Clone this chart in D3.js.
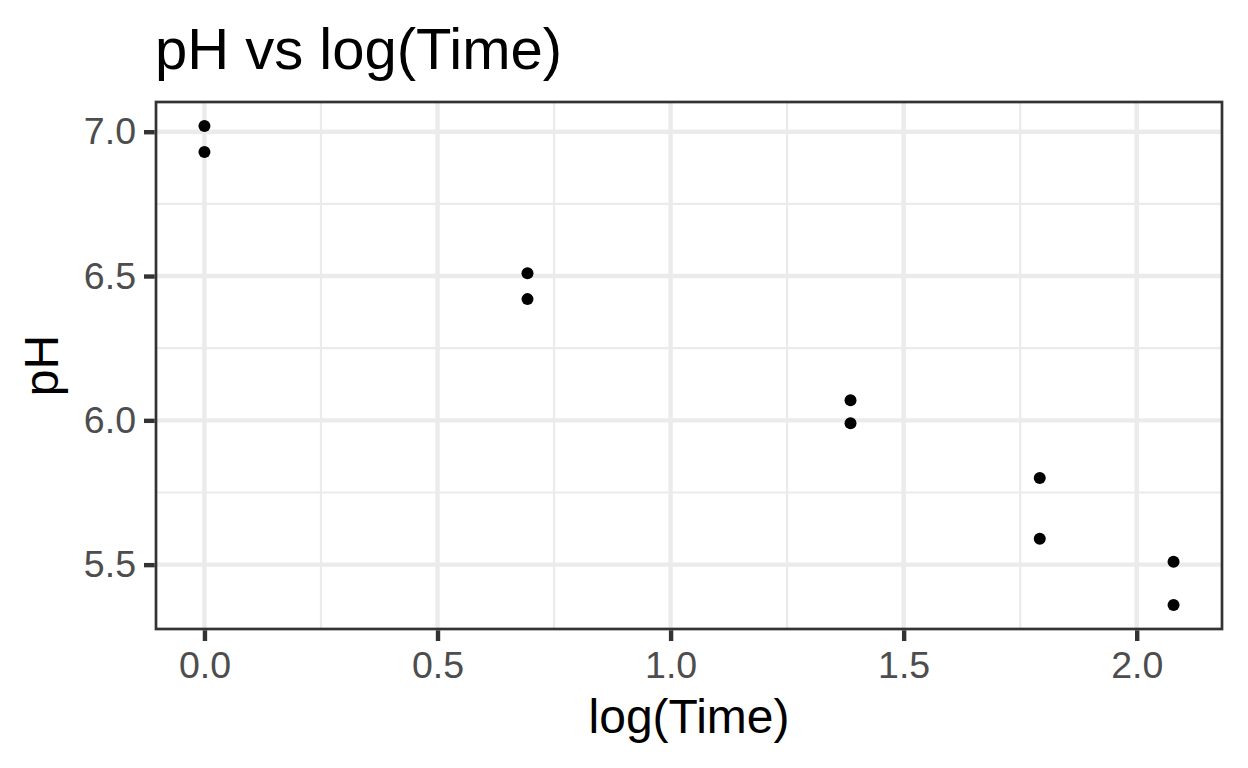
<!DOCTYPE html>
<html>
<head>
<meta charset="utf-8">
<script src="https://cdn.jsdelivr.net/npm/d3@7"></script>
<style>
  html, body { margin: 0; padding: 0; background: #fff; }
  svg { display: block; font-family: "Liberation Sans", Arial, Helvetica, sans-serif; }
</style>
</head>
<body>
<svg id="chart" width="1248" height="768"></svg>
<script>
// Data
const logTime = [0, 0, 0.693, 0.693, 1.386, 1.386, 1.792, 1.792, 2.079, 2.079];
const pH = [7.02, 6.93, 6.51, 6.42, 6.07, 5.99, 5.80, 5.59, 5.51, 5.36];
const xTicks = [0.0, 0.5, 1.0, 1.5, 2.0];
const xMinor = [0.25, 0.75, 1.25, 1.75];
const yTicks = [5.5, 6.0, 6.5, 7.0];
const yMinor = [5.75, 6.25, 6.75];
const titleText = "pH vs log(Time)";
const xTitle = "log(Time)";
const yTitle = "pH";

const svg = d3.select("#chart");
const panel = { left: 156, right: 1222, top: 102, bottom: 629 };

const xExt = d3.extent(logTime), yExt = d3.extent(pH);
const xPad = (xExt[1] - xExt[0]) * 0.05, yPad = (yExt[1] - yExt[0]) * 0.05;
const x = d3.scaleLinear().domain([xExt[0] - xPad, xExt[1] + xPad]).range([panel.left, panel.right]);
const y = d3.scaleLinear().domain([yExt[0] - yPad, yExt[1] + yPad]).range([panel.bottom, panel.top]);

const g = svg.append("g");
g.append("rect").attr("x", panel.left).attr("y", panel.top)
  .attr("width", panel.right - panel.left).attr("height", panel.bottom - panel.top)
  .attr("fill", "#fff");

// minor grid
g.selectAll(".xminor").data(xMinor).join("line")
  .attr("x1", d => x(d)).attr("x2", d => x(d)).attr("y1", panel.top).attr("y2", panel.bottom)
  .attr("stroke", "#EBEBEB").attr("stroke-width", 2.2);
g.selectAll(".yminor").data(yMinor).join("line")
  .attr("y1", d => y(d)).attr("y2", d => y(d)).attr("x1", panel.left).attr("x2", panel.right)
  .attr("stroke", "#EBEBEB").attr("stroke-width", 2.2);
// major grid
g.selectAll(".xmajor").data(xTicks).join("line")
  .attr("x1", d => x(d)).attr("x2", d => x(d)).attr("y1", panel.top).attr("y2", panel.bottom)
  .attr("stroke", "#EBEBEB").attr("stroke-width", 4.4);
g.selectAll(".ymajor").data(yTicks).join("line")
  .attr("y1", d => y(d)).attr("y2", d => y(d)).attr("x1", panel.left).attr("x2", panel.right)
  .attr("stroke", "#EBEBEB").attr("stroke-width", 4.4);

// points
g.selectAll("circle.pt").data(pH).join("circle")
  .attr("class", "pt")
  .attr("cx", (d, i) => x(logTime[i])).attr("cy", d => y(d))
  .attr("r", 6).attr("fill", "#000");

// border
g.append("rect").attr("x", panel.left).attr("y", panel.top)
  .attr("width", panel.right - panel.left).attr("height", panel.bottom - panel.top)
  .attr("fill", "none").attr("stroke", "#333333").attr("stroke-width", 2.7);

// axes
const xAxis = d3.axisBottom(x).tickValues(xTicks).tickFormat(d3.format(".1f")).tickSize(12).tickPadding(10);
const yAxis = d3.axisLeft(y).tickValues(yTicks).tickFormat(d3.format(".1f")).tickSize(12).tickPadding(8);

const gx = svg.append("g").attr("transform", `translate(0,${panel.bottom})`).call(xAxis);
const gy = svg.append("g").attr("transform", `translate(${panel.left},0)`).call(yAxis);
[gx, gy].forEach(a => {
  a.select(".domain").remove();
  a.selectAll(".tick line").attr("stroke", "#333333").attr("stroke-width", 4.4);
  a.selectAll(".tick text").attr("fill", "#4D4D4D").attr("font-size", 37.5)
    .attr("font-family", "Liberation Sans, Arial, sans-serif");
});
gx.selectAll(".tick line").attr("y1", 1.3);
gy.selectAll(".tick line").attr("x1", -1.3);

// titles
svg.append("text").attr("x", 155).attr("y", 69).attr("font-size", 58)
  .attr("fill", "#000").text(titleText);
svg.append("text").attr("x", (panel.left + panel.right) / 2).attr("y", 733)
  .attr("text-anchor", "middle").attr("font-size", 48).attr("fill", "#000").text(xTitle);
svg.append("text").attr("transform", `translate(58,${(panel.top + panel.bottom) / 2}) rotate(-90)`)
  .attr("text-anchor", "middle").attr("font-size", 48).attr("fill", "#000").text(yTitle);
</script>
</body>
</html>
